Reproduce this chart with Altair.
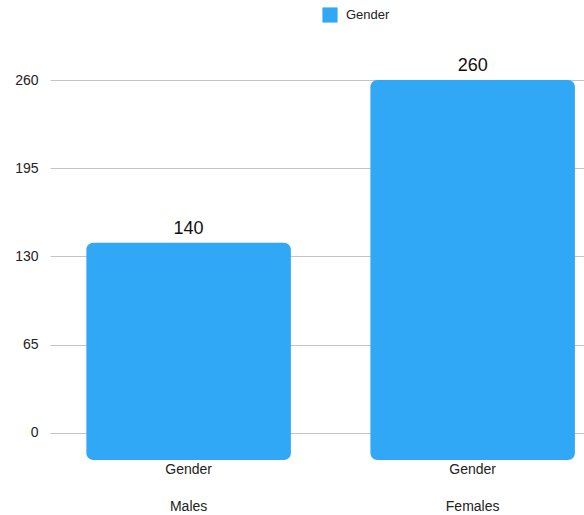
import altair as alt
import pandas as pd

categories = ["Males", "Females"]
values = [140, 260]
series = ["Gender", "Gender"]
y_ticks = [0, 65, 130, 195, 260]

df = pd.DataFrame({"category": categories, "value": values, "series": series})

FONT = "Liberation Sans"
BLUE = "#31a8f5"
BASE = -20  # visual base of the pseudo-3D bars, below zero

x = alt.X(
    "category:N",
    sort=categories,
    scale=alt.Scale(paddingInner=0.28, paddingOuter=0.08, align=0.8),
    axis=alt.Axis(
        title=None,
        labelExpr="['Gender', datum.value]",
        labelAngle=0,
        labelFontSize=14,
        labelColor="#222222",
        labelFont=FONT,
        labelPadding=2,
        labelLineHeight=37,
        labelBaseline="top",
        ticks=False,
        domain=False,
        grid=False,
    ),
)

y = alt.Y(
    "value:Q",
    scale=alt.Scale(domain=[BASE, 260], nice=False, zero=False),
    axis=alt.Axis(
        title=None,
        values=y_ticks,
        labelFontSize=14,
        labelColor="#222222",
        labelFont=FONT,
        labelPadding=12,
        ticks=False,
        domain=False,
        grid=True,
        gridColor="#c4c4c4",
        gridWidth=1,
    ),
)

bars = alt.Chart(df).mark_bar(cornerRadius=7).encode(
    x=x,
    y=y,
    y2=alt.datum(BASE),
    color=alt.Color(
        "series:N",
        scale=alt.Scale(domain=["Gender"], range=[BLUE]),
        legend=alt.Legend(
            title=None,
            orient="none",
            legendX=272,
            legendY=-73,
            symbolType="square",
            symbolSize=230,
            symbolStrokeWidth=0,
            labelFontSize=13,
            labelFont=FONT,
            labelColor="#222222",
            labelOffset=8,
        ),
    ),
)

labels = alt.Chart(df).mark_text(
    dy=-5, fontSize=18, font=FONT, color="#111111", baseline="bottom"
).encode(
    x=alt.X("category:N", sort=categories),
    y=alt.Y("value:Q"),
    text=alt.Text("value:Q"),
)

chart = (
    alt.layer(bars, labels)
    .properties(
        width=534,
        height=380,
        autosize=alt.AutoSizeParams(type="none"),
        padding={"left": 50, "top": 80, "right": 0, "bottom": 55},
        background="white",
    )
    .configure_view(stroke=None)
)

chart.save("out.html", embed_options={"renderer": "svg", "actions": False})
